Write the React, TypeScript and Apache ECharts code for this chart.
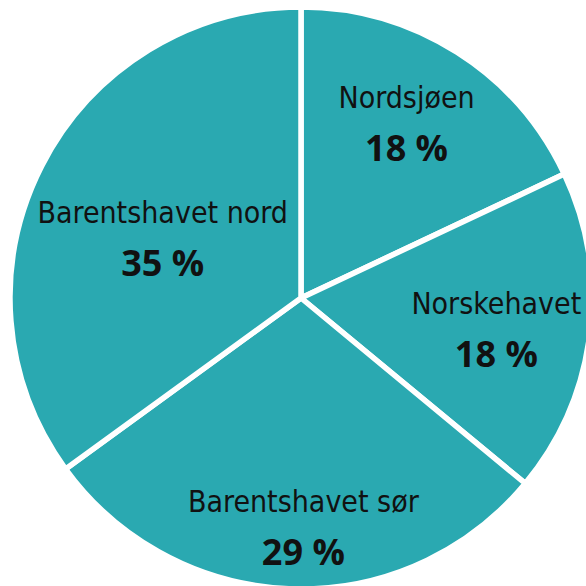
import React, { useEffect, useRef } from "react";
import * as echarts from "echarts";

const categories = ["Nordsjøen", "Norskehavet", "Barentshavet sør", "Barentshavet nord"];
const shares = [18, 18, 29, 35];
// label nudges (px) relative to the pie's default inside-label anchor
const labelOffsets: [number, number][] = [
  [26, -50],
  [48, 12],
  [7, 80],
  [-6, 7],
];

export default function App() {
  const ref = useRef<HTMLDivElement>(null);
  useEffect(() => {
    document.body.style.margin = "0";
    if (!ref.current) return;
    const chart = echarts.init(ref.current, null, { renderer: "svg" });
    chart.setOption({
      animation: false,
      backgroundColor: "#ffffff",
      series: [
        {
          type: "pie",
          center: [301, 298],
          radius: 291,
          startAngle: 90,
          clockwise: true,
          silent: true,
          emphasis: { disabled: true },
          itemStyle: {
            color: "#2aa9b1",
            borderColor: "#ffffff",
            borderWidth: 5.5,
          },
          labelLine: { show: false },
          label: {
            show: true,
            position: "inside",
            formatter: (p: any) => `{n|${p.name}}\n{v|${p.value} %}`,
            rich: {
              n: {
                fontFamily: "'DejaVu Sans Condensed', 'Liberation Sans Narrow', sans-serif",
                fontSize: 30,
                color: "#111111",
                lineHeight: 50,
                align: "center",
              },
              v: {
                fontFamily: "'Open Sans', 'Liberation Sans', sans-serif",
                fontWeight: "bold",
                fontSize: 36,
                color: "#111111",
                lineHeight: 50,
                align: "center",
              },
            },
          },
          data: categories.map((name, i) => ({
            name,
            value: shares[i],
            label: { offset: labelOffsets[i] },
          })),
        },
      ],
    });
    return () => chart.dispose();
  }, []);
  return <div ref={ref} style={{ width: 586, height: 586 }} />;
}
